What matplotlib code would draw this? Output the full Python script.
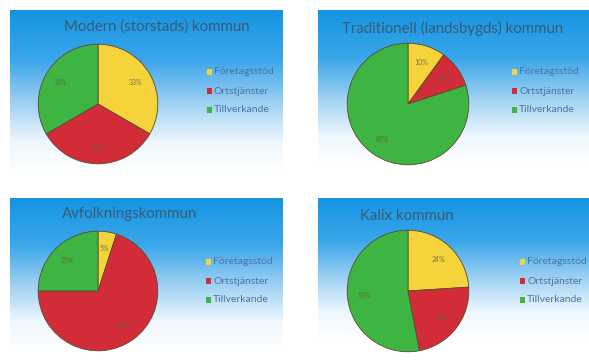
import numpy as np
import matplotlib
matplotlib.use("Agg")
import matplotlib.pyplot as plt
from matplotlib.colors import LinearSegmentedColormap

plt.rcParams['font.family'] = ['Lato', 'DejaVu Sans']

categories = ["Företagsstöd", "Ortstjänster", "Tillverkande"]
titles = ["Modern (storstads) kommun", "Traditionell (landsbygds) kommun",
          "Avfolkningskommun", "Kalix kommun"]
values_modern = [33, 33, 33]
values_trad = [10, 10, 80]
values_avfolk = [5, 70, 25]
values_kalix = [24, 23, 53]
pct_labels = [["33%", "33%", "33%"], ["10%", "10%", "80%"],
              ["5%", "70%", "25%"], ["24%", "23%", "53%"]]

colors = ["#F4D43A", "#D12C38", "#3EB443"]

W, H = 589, 362
fig = plt.figure(figsize=(W / 100, H / 100), dpi=100)
fig.patch.set_facecolor("white")

grad_cmap = LinearSegmentedColormap.from_list(
    "g", [(0.0, "#1594E2"), (0.3, "#3AA6EA"), (0.55, "#99CFF2"), (0.8, "#EEF7FD"), (1.0, "#FFFFFF")])

def fig_rect(x0, y0, x1, y1):
    return [x0 / W, 1 - y1 / H, (x1 - x0) / W, (y1 - y0) / H]

panels = [
    dict(box=(10, 10, 283, 175), center=(98, 104), r=61, title_xy=(157, 27), title_ha="center",
         leg=(207, 72), vals=values_modern),
    dict(box=(318, 10, 589, 167), center=(408, 104), r=62, title_xy=(453, 28), title_ha="center",
         leg=(512, 72), vals=values_trad),
    dict(box=(10, 198, 283, 352), center=(98, 291), r=61, title_xy=(62, 214), title_ha="left",
         leg=(206, 262), vals=values_avfolk),
    dict(box=(318, 198, 589, 340), center=(408, 291), r=62, title_xy=(360, 216), title_ha="left",
         leg=(520, 262), vals=values_kalix),
]

for i, p in enumerate(panels):
    bg = fig.add_axes(fig_rect(*p["box"]))
    grad = np.linspace(0, 1, 256).reshape(-1, 1)
    bg.imshow(grad, aspect="auto", cmap=grad_cmap, extent=[0, 1, 0, 1], origin="upper")
    bg.set_axis_off()

    cx, cy = p["center"]
    r = p["r"]
    ax = fig.add_axes(fig_rect(cx - r, cy - r, cx + r, cy + r))
    wedges, texts = ax.pie(p["vals"], colors=colors, startangle=90, counterclock=False,
                           radius=1.0, wedgeprops=dict(edgecolor="#5a4a30", linewidth=0.6))
    for w, lab in zip(wedges, pct_labels[i]):
        ang = np.deg2rad((w.theta1 + w.theta2) / 2)
        ax.text(0.72 * np.cos(ang), 0.72 * np.sin(ang), lab, ha="center", va="center",
                fontsize=5, color="#6a5a40", alpha=0.8)
    ax.set_xlim(-1.02, 1.02)
    ax.set_ylim(-1.02, 1.02)
    ax.set_aspect("equal")
    ax.set_axis_off()

    tx, ty = p["title_xy"]
    fig.text(tx / W, 1 - ty / H, titles[i], ha=p["title_ha"], va="center",
             fontsize=10.8, color="#3C5262", alpha=0.85)

    lx, ly = p["leg"]
    for j, cat in enumerate(categories):
        yy = ly + j * 19
        fig.patches.append(plt.Rectangle(((lx) / W, 1 - (yy + 3) / H), 5 / W, 6 / H,
                                         transform=fig.transFigure, facecolor=colors[j],
                                         edgecolor="none", figure=fig))
        fig.text((lx + 7) / W, 1 - yy / H, cat, ha="left", va="center",
                 fontsize=7.5, color="#4F72A8")

fig.savefig("out.png", dpi=100)
